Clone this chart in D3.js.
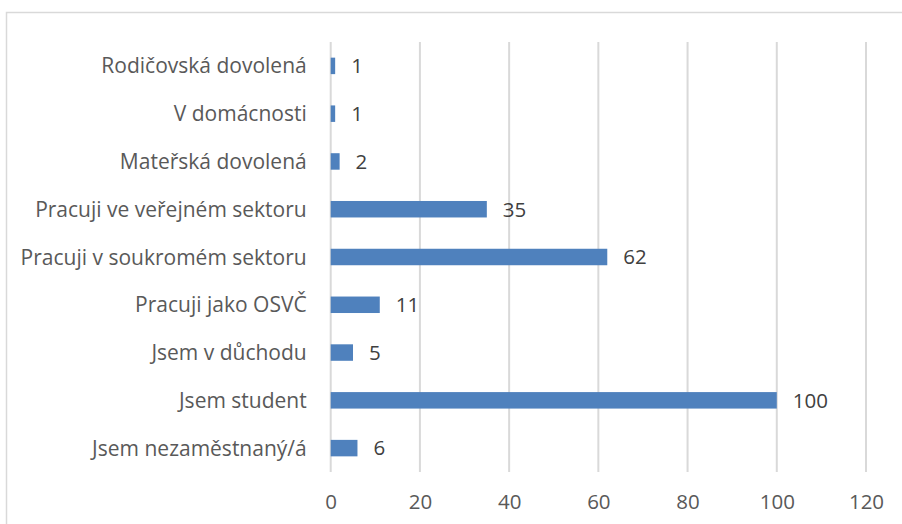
<!DOCTYPE html>
<html><head><meta charset="utf-8">
<script src="https://cdn.jsdelivr.net/npm/d3@7"></script>
<style>body{margin:0;background:#fff}svg{display:block}</style>
</head><body>
<script>
const categories = ["Rodičovská dovolená","V domácnosti","Mateřská dovolená","Pracuji ve veřejném sektoru","Pracuji v soukromém sektoru","Pracuji jako OSVČ","Jsem v důchodu","Jsem student","Jsem nezaměstnaný/á"];
const values = [1,1,2,35,62,11,5,100,6];
const xTicks = [0,20,40,60,80,100,120];

const W=902,H=524;
const svg=d3.select("body").append("svg").attr("width",W).attr("height",H);
const font="'Open Sans', sans-serif";
const fs=20.5;
svg.append("rect").attr("x",6.5).attr("y",12.5).attr("width",W).attr("height",H).attr("fill","#fff").attr("stroke","#d9d9d9").attr("stroke-width",1.5);

const x=d3.scaleLinear().domain([0,120]).range([330.7,866]);
const y=d3.scaleBand().domain(categories).range([42,472]).paddingInner(0.655).paddingOuter(0.3275);

const g=svg.append("g");
g.selectAll("line.grid").data(xTicks).enter().append("line")
 .attr("x1",d=>x(d)).attr("x2",d=>x(d)).attr("y1",42).attr("y2",472)
 .attr("stroke","#d9d9d9").attr("stroke-width",2);

g.selectAll("rect.bar").data(values).enter().append("rect")
 .attr("x",x(0)).attr("y",(d,i)=>y(categories[i]))
 .attr("width",d=>x(d)-x(0)).attr("height",y.bandwidth())
 .attr("fill","#4f81bd");

g.selectAll("text.val").data(values).enter().append("text")
 .attr("x",d=>x(d)+16).attr("y",(d,i)=>y(categories[i])+y.bandwidth()/2)
 .attr("dy","0.36em").attr("fill","#404040").attr("font-family",font).attr("font-size",fs)
 .text(d=>d);

const xAxis=d3.axisBottom(x).tickValues(xTicks).tickSize(0).tickPadding(16);
const ax=svg.append("g").attr("transform","translate(0,478)").call(xAxis);
ax.select(".domain").remove();
ax.selectAll("text").attr("fill","#595959").attr("font-family",font).attr("font-size",fs);

const yAxis=d3.axisLeft(y).tickSize(0).tickPadding(24);
const ay=svg.append("g").attr("transform",`translate(${x(0)},0)`).call(yAxis);
ay.select(".domain").remove();
ay.selectAll("text").attr("fill","#595959").attr("font-family",font).attr("font-size",21).attr("dy","0.36em");
</script>
</body></html>
